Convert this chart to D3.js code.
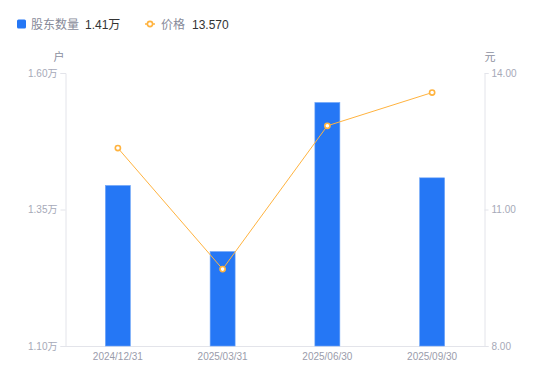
<!DOCTYPE html>
<html>
<head>
<meta charset="utf-8">
<script src="https://cdn.jsdelivr.net/npm/d3@7"></script>
<style>
  html, body { margin: 0; padding: 0; background: #fff; }
  svg { display: block; font-family: "Liberation Sans", "Noto Sans CJK SC", sans-serif; }
</style>
</head>
<body>
<svg id="chart" width="550" height="381"></svg>
<script>
const dates = ["2024/12/31", "2025/03/31", "2025/06/30", "2025/09/30"];
const holders = [1.394, 1.273, 1.546, 1.408]; // 万户
const prices = [12.35, 9.69, 12.84, 13.57];
const leftTicks = [1.10, 1.35, 1.60];
const rightTicks = [8, 11, 14];

const width = 550;
const height = 381;
const margin = { top: 73, right: 65.5, bottom: 35, left: 65.5 };
const barColor = "#2577f5";
const lineColor = "#ffb33f";
const axisColor = "#e3e4ea";
const tickText = "#a6a9b8";
const font = "Liberation Sans, Noto Sans CJK SC, sans-serif";

const svg = d3.select("#chart");

const x = d3
  .scaleBand()
  .domain(dates)
  .range([margin.left, width - margin.right]);

const yLeft = d3.scaleLinear().domain([1.10, 1.60]).range([height - margin.bottom, margin.top]);
const yRight = d3.scaleLinear().domain([8, 14]).range([height - margin.bottom, margin.top]);

// Axes
const leftAxis = svg
  .append("g")
  .attr("transform", `translate(${margin.left},0)`)
  .call(d3.axisLeft(yLeft).tickValues(leftTicks).tickSize(5).tickPadding(3).tickFormat((d) => d3.format(".2f")(d) + "万"));

const rightAxis = svg
  .append("g")
  .attr("transform", `translate(${width - margin.right},0)`)
  .call(d3.axisRight(yRight).tickValues(rightTicks).tickSize(4).tickPadding(3).tickFormat(d3.format(".2f")));

const bottomAxis = svg
  .append("g")
  .attr("transform", `translate(0,${height - margin.bottom})`)
  .call(d3.axisBottom(x).tickSize(0).tickPadding(7));

for (const ax of [leftAxis, rightAxis, bottomAxis]) {
  ax.attr("font-family", font);
  ax.select(".domain").attr("stroke", axisColor);
  ax.selectAll(".tick line").attr("stroke", axisColor);
  ax.selectAll(".tick text").attr("fill", tickText).attr("font-size", 10);
}
bottomAxis.selectAll(".tick text").attr("fill", "#9a9cab");

// Unit labels
svg.append("text").attr("x", 59).attr("y", 61).attr("text-anchor", "middle")
  .attr("font-size", 11).attr("fill", "#8c8f9e").text("户");
svg.append("text").attr("x", 490).attr("y", 61).attr("text-anchor", "middle")
  .attr("font-size", 11).attr("fill", "#8c8f9e").text("元");

// Bars
const barWidth = 25;
svg
  .append("g")
  .selectAll("rect")
  .data(holders)
  .join("rect")
  .attr("x", (d, i) => x(dates[i]) + x.bandwidth() / 2 - barWidth / 2)
  .attr("y", (d) => yLeft(d))
  .attr("width", barWidth)
  .attr("height", (d) => yLeft(1.10) - yLeft(d))
  .attr("fill", barColor)
  .attr("stroke", "#6fa5f8")
  .attr("stroke-width", 0.6);

// Price line
const line = d3
  .line()
  .x((d, i) => x(dates[i]) + x.bandwidth() / 2)
  .y((d) => yRight(d));

svg.append("path").datum(prices).attr("d", line).attr("fill", "none")
  .attr("stroke", lineColor).attr("stroke-width", 1);

svg
  .append("g")
  .selectAll("circle")
  .data(prices)
  .join("circle")
  .attr("cx", (d, i) => x(dates[i]) + x.bandwidth() / 2)
  .attr("cy", (d) => yRight(d))
  .attr("r", 2.6)
  .attr("fill", "#fff")
  .attr("stroke", lineColor)
  .attr("stroke-width", 1.6);

// Legend
const legend = svg.append("g").attr("transform", "translate(0,24)");
legend.append("rect").attr("x", 17).attr("y", -4.5).attr("width", 9).attr("height", 9).attr("rx", 1.5).attr("fill", barColor);
legend.append("text").attr("x", 31).attr("y", 4.5).attr("font-size", 12).attr("fill", "#878a99").text("股东数量");
legend.append("text").attr("x", 85).attr("y", 4.5).attr("font-size", 12).attr("fill", "#333").text(d3.format(".2f")(holders[holders.length - 1]) + "万");

legend.append("line").attr("x1", 145).attr("x2", 155).attr("y1", 0).attr("y2", 0).attr("stroke", lineColor).attr("stroke-width", 1.5);
legend.append("circle").attr("cx", 150).attr("cy", 0).attr("r", 2.6).attr("fill", "#fff").attr("stroke", lineColor).attr("stroke-width", 1.6);
legend.append("text").attr("x", 161).attr("y", 4.5).attr("font-size", 12).attr("fill", "#878a99").text("价格");
legend.append("text").attr("x", 192).attr("y", 4.5).attr("font-size", 12).attr("fill", "#333").text(d3.format(".3f")(prices[prices.length - 1]));
</script>
</body>
</html>
